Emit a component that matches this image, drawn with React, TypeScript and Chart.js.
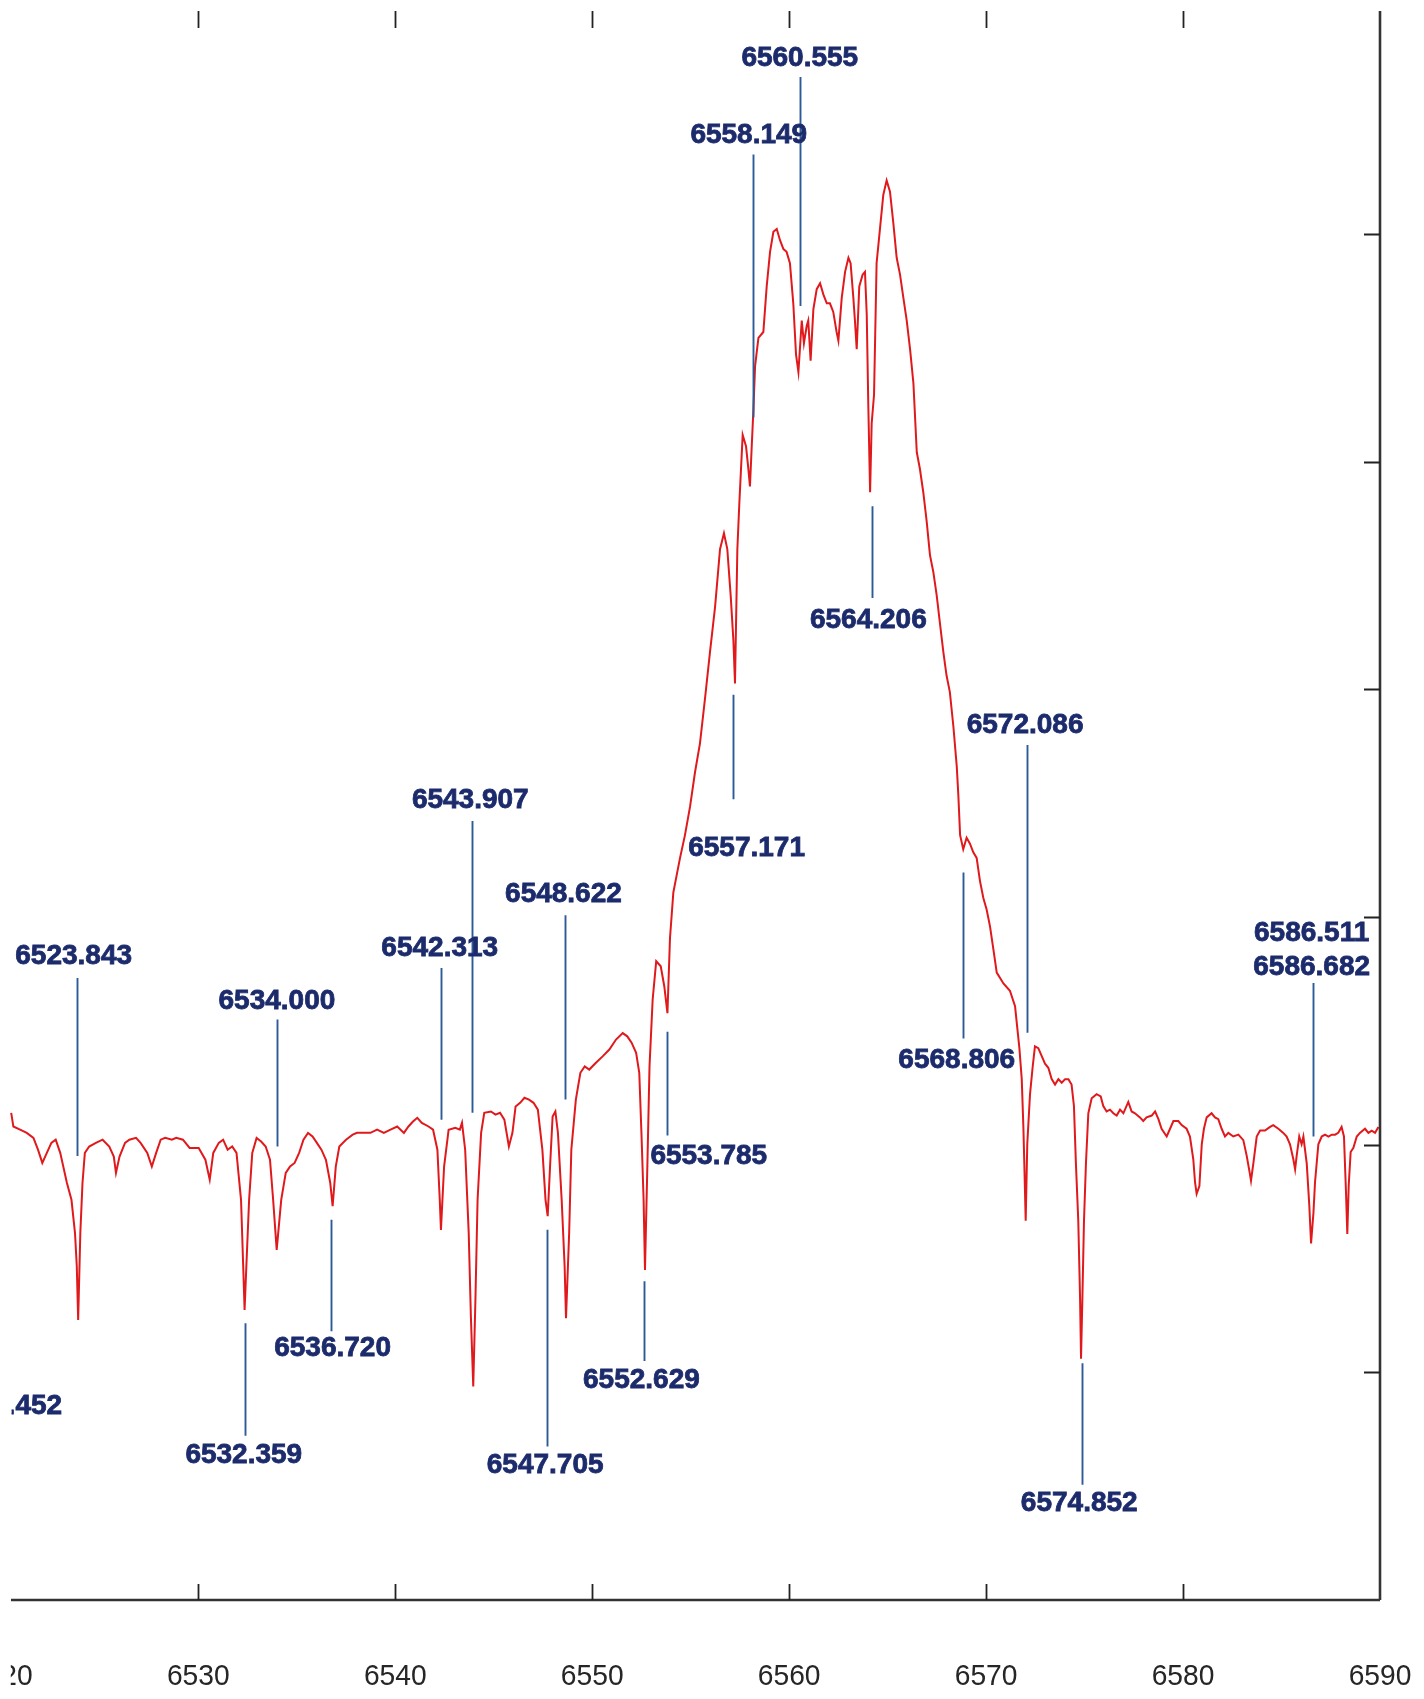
import { useEffect, useRef } from "react";
import { Chart, registerables } from "chart.js";

Chart.register(...registerables);

// ---- spectrum (wavelength in Å, normalised flux) ----
const wavelength = [
  6520.50, 6520.61, 6520.95, 6521.29, 6521.63, 6521.86, 6522.08, 6522.31, 6522.54, 6522.76,
  6522.99, 6523.33, 6523.56, 6523.74, 6523.83, 6523.90, 6524.01, 6524.12, 6524.24, 6524.46,
  6524.80, 6525.14, 6525.48, 6525.71, 6525.82, 6526.00, 6526.28, 6526.50, 6526.84, 6527.07,
  6527.41, 6527.64, 6527.86, 6528.09, 6528.32, 6528.66, 6528.88, 6529.22, 6529.56, 6530.02,
  6530.36, 6530.58, 6530.76, 6531.04, 6531.26, 6531.49, 6531.72, 6531.94, 6532.17, 6532.28,
  6532.35, 6532.44, 6532.58, 6532.74, 6532.96, 6533.19, 6533.42, 6533.64, 6533.80, 6533.98,
  6534.21, 6534.44, 6534.66, 6534.89, 6535.12, 6535.34, 6535.57, 6535.80, 6536.02, 6536.25,
  6536.48, 6536.70, 6536.82, 6536.98, 6537.16, 6537.50, 6537.84, 6538.06, 6538.40, 6538.74,
  6539.08, 6539.42, 6539.76, 6540.10, 6540.44, 6540.67, 6540.90, 6541.12, 6541.35, 6541.69,
  6541.92, 6542.14, 6542.26, 6542.32, 6542.48, 6542.71, 6543.05, 6543.28, 6543.39, 6543.55,
  6543.73, 6543.84, 6543.96, 6544.07, 6544.18, 6544.36, 6544.52, 6544.86, 6545.09, 6545.32,
  6545.54, 6545.77, 6545.95, 6546.11, 6546.34, 6546.56, 6546.79, 6547.02, 6547.24, 6547.47,
  6547.63, 6547.74, 6547.86, 6547.99, 6548.13, 6548.26, 6548.45, 6548.60, 6548.67, 6548.83,
  6548.94, 6549.17, 6549.40, 6549.62, 6549.85, 6550.19, 6550.53, 6550.87, 6551.21, 6551.55,
  6551.78, 6552.00, 6552.23, 6552.39, 6552.50, 6552.61, 6552.68, 6552.80, 6552.91, 6553.07,
  6553.25, 6553.48, 6553.66, 6553.82,
  6553.95, 6554.12, 6554.29, 6554.46, 6554.71, 6554.97, 6555.22, 6555.47, 6555.73, 6555.98,
  6556.24, 6556.49, 6556.69, 6556.86, 6557.03, 6557.17, 6557.25, 6557.37, 6557.47, 6557.64,
  6557.81, 6557.93, 6558.01, 6558.10, 6558.18, 6558.27, 6558.44, 6558.69, 6558.86, 6559.03,
  6559.20, 6559.37, 6559.54, 6559.71, 6559.87, 6560.04, 6560.21, 6560.35, 6560.47, 6560.64,
  6560.75, 6560.89, 6560.97, 6561.09, 6561.23, 6561.40, 6561.57, 6561.74, 6561.91, 6562.07,
  6562.24, 6562.41, 6562.50, 6562.67, 6562.84, 6563.01, 6563.12, 6563.26, 6563.34, 6563.43,
  6563.56, 6563.73, 6563.85, 6563.94, 6564.02, 6564.11, 6564.19, 6564.31, 6564.44, 6564.61,
  6564.78, 6564.95, 6565.12, 6565.29, 6565.46, 6565.63, 6565.80, 6565.97, 6566.14, 6566.31,
  6566.48, 6566.64, 6566.81, 6566.98, 6567.15, 6567.32, 6567.49, 6567.66, 6567.83, 6567.99,
  6568.16, 6568.34, 6568.51, 6568.59, 6568.68, 6568.84, 6569.01, 6569.18, 6569.35, 6569.52,
  6569.69, 6569.86, 6570.03, 6570.20, 6570.37, 6570.54,
  6570.88, 6571.21, 6571.47, 6571.59, 6571.69, 6571.81, 6571.89, 6571.94, 6572.01, 6572.09,
  6572.23, 6572.36, 6572.48, 6572.65, 6572.82, 6572.99, 6573.16, 6573.33, 6573.50, 6573.67,
  6573.84, 6574.01, 6574.18, 6574.34, 6574.46, 6574.56, 6574.68, 6574.77, 6574.82, 6574.89,
  6574.97, 6575.07, 6575.19, 6575.36, 6575.61, 6575.82, 6575.95, 6576.12, 6576.29, 6576.46,
  6576.63, 6576.80, 6576.97, 6577.22, 6577.39, 6577.56, 6577.81, 6577.98, 6578.15, 6578.41,
  6578.58, 6578.75, 6578.91, 6579.17, 6579.34, 6579.51, 6579.76, 6579.93, 6580.18, 6580.35,
  6580.52, 6580.61, 6580.69, 6580.83, 6580.95, 6581.06, 6581.20, 6581.45, 6581.62, 6581.79,
  6581.96, 6582.13, 6582.30, 6582.55, 6582.81, 6583.06, 6583.23, 6583.37, 6583.45, 6583.57,
  6583.74, 6583.91, 6584.16, 6584.42, 6584.58, 6584.84, 6585.09, 6585.26, 6585.43, 6585.60,
  6585.69, 6585.77, 6585.90, 6586.02, 6586.11, 6586.28, 6586.41, 6586.50, 6586.62, 6586.70,
  6586.87, 6587.04, 6587.21, 6587.38, 6587.55, 6587.72, 6587.88, 6588.05, 6588.17, 6588.27,
  6588.34, 6588.41, 6588.51, 6588.65, 6588.82, 6588.98, 6589.24, 6589.41, 6589.58, 6589.75,
  6589.92,
];

const flux = [
  1.070, 1.040, 1.033, 1.026, 1.015, 0.989, 0.960, 0.982, 1.004, 1.011,
  0.982, 0.916, 0.879, 0.806, 0.733, 0.615, 0.806, 0.916, 0.982, 0.996,
  1.004, 1.011, 0.996, 0.974, 0.938, 0.974, 1.004, 1.011, 1.015, 1.004,
  0.982, 0.952, 0.982, 1.011, 1.015, 1.011, 1.015, 1.011, 0.993, 0.993,
  0.967, 0.923, 0.982, 1.004, 1.011, 0.989, 0.996, 0.982, 0.879, 0.733,
  0.637, 0.733, 0.879, 0.982, 1.015, 1.007, 0.996, 0.967, 0.879, 0.769,
  0.879, 0.938, 0.952, 0.960, 0.982, 1.011, 1.026, 1.018, 1.004, 0.989,
  0.967, 0.916, 0.865, 0.952, 0.996, 1.011, 1.022, 1.026, 1.026, 1.026,
  1.033, 1.026, 1.033, 1.040, 1.026, 1.040, 1.051, 1.059, 1.048, 1.040,
  1.033, 0.989, 0.879, 0.813, 0.952, 1.033, 1.037, 1.033, 1.048, 0.989,
  0.806, 0.623, 0.469, 0.659, 0.879, 1.026, 1.070, 1.073, 1.066, 1.070,
  1.055, 0.996, 1.026, 1.084, 1.092, 1.103, 1.099, 1.092, 1.077, 0.989,
  0.879, 0.843, 0.952, 1.062, 1.073, 1.026, 0.879, 0.733, 0.619, 0.806,
  0.989, 1.099, 1.158, 1.172, 1.165, 1.180, 1.194, 1.209, 1.231, 1.245,
  1.238, 1.224, 1.202, 1.158, 1.026, 0.879, 0.725, 0.952, 1.172, 1.319,
  1.403, 1.392, 1.348, 1.289,
  1.454, 1.554, 1.592, 1.630, 1.680, 1.743, 1.818, 1.881, 1.981, 2.082,
  2.182, 2.308, 2.343, 2.308, 2.207, 2.107, 2.013, 2.308, 2.408, 2.559,
  2.534, 2.484, 2.446, 2.534, 2.609, 2.710, 2.772, 2.785, 2.885, 2.961,
  3.005, 3.011, 2.986, 2.967, 2.961, 2.936, 2.848, 2.735, 2.697, 2.810,
  2.760, 2.798, 2.810, 2.722, 2.835, 2.879, 2.892, 2.867, 2.848, 2.848,
  2.829, 2.785, 2.766, 2.860, 2.917, 2.948, 2.936, 2.860, 2.810, 2.747,
  2.885, 2.911, 2.917, 2.823, 2.622, 2.433, 2.584, 2.647, 2.936, 3.011,
  3.086, 3.118, 3.093, 3.024, 2.948, 2.911, 2.860, 2.810, 2.747, 2.672,
  2.521, 2.484, 2.433, 2.370, 2.295, 2.258, 2.207, 2.144, 2.082, 2.031,
  1.994, 1.918, 1.831, 1.768, 1.680, 1.649, 1.674, 1.661, 1.642, 1.630,
  1.579, 1.542, 1.516, 1.479, 1.429, 1.378,
  1.354, 1.338, 1.304, 1.254, 1.212, 1.144, 1.043, 0.959, 0.833, 1.001,
  1.111, 1.169, 1.216, 1.212, 1.195, 1.178, 1.169, 1.144, 1.132, 1.144,
  1.136, 1.144, 1.144, 1.132, 1.085, 0.959, 0.833, 0.665, 0.530, 0.665,
  0.833, 0.959, 1.069, 1.102, 1.111, 1.106, 1.085, 1.073, 1.077, 1.069,
  1.064, 1.077, 1.069, 1.094, 1.073, 1.069, 1.060, 1.052, 1.060, 1.064,
  1.073, 1.056, 1.035, 1.018, 1.035, 1.052, 1.052, 1.043, 1.035, 1.018,
  0.968, 0.917, 0.892, 0.909, 1.001, 1.035, 1.060, 1.069, 1.060, 1.056,
  1.035, 1.018, 1.026, 1.018, 1.022, 1.010, 0.976, 0.942, 0.921, 0.959,
  1.018, 1.031, 1.031, 1.039, 1.043, 1.035, 1.026, 1.018, 1.001, 0.968,
  0.946, 0.976, 1.018, 1.001, 1.018, 0.959, 0.867, 0.783, 0.850, 0.917,
  1.001, 1.018, 1.022, 1.018, 1.022, 1.022, 1.026, 1.039, 1.018, 0.900,
  0.804, 0.909, 0.984, 0.993, 1.018, 1.026, 1.035, 1.026, 1.031, 1.026,
  1.039,
];

// ---- axes ----
const xMin = 6520;
const xMax = 6590;
const yMin = 0;
const yMax = 3.49;
const xTickValues = [6520, 6530, 6540, 6550, 6560, 6570, 6580, 6590];
const yTickValues = [0.5, 1.0, 1.5, 2.0, 2.5, 3.0];

// ---- line identifications ----
const lineLabels = [
  "6520.452", "6523.843", "6532.359", "6534.000", "6536.720", "6542.313",
  "6543.907", "6547.705", "6548.622", "6552.629", "6553.785", "6557.171",
  "6558.149", "6560.555", "6564.206", "6568.806", "6572.086", "6574.852",
  "6586.511\n6586.682",
];
const lineWave = [
  6520.452, 6523.843, 6532.359, 6534.0, 6536.72, 6542.313,
  6543.907, 6547.705, 6548.622, 6552.629, 6553.785, 6557.171,
  6558.149, 6560.555, 6564.206, 6568.806, 6572.086, 6574.852,
  6586.597,
];
const lineTop = [
  0.90, 1.366, 0.608, 1.275, 0.835, 1.388,
  1.711, 0.813, 1.504, 0.700, 1.248, 1.988,
  3.175, 3.345, 2.402, 1.598, 1.878, 0.520,
  1.355,
];
const lineBottom = [
  0.47, 0.975, 0.361, 0.996, 0.590, 1.055,
  1.070, 0.337, 1.099, 0.525, 1.020, 1.759,
  2.597, 2.842, 2.201, 1.233, 1.246, 0.253,
  1.018,
];
const labelWave = [
  6520.12, 6523.67, 6532.31, 6533.99, 6536.82, 6542.26,
  6543.81, 6547.61, 6548.54, 6552.50, 6555.92, 6557.84,
  6557.95, 6560.54, 6564.02, 6568.51, 6571.98, 6574.73,
  6586.53,
];
const labelFlux = [
  0.425, 1.414, 0.318, 1.315, 0.553, 1.432,
  1.756, 0.296, 1.549, 0.482, 0.975, 1.652,
  3.216, 3.387, 2.151, 1.186, 1.921, 0.213,
  1.426,
];

const RED = "#e0191c";
const BLUE_LINE = "#2d5b98";
const NAVY = "#1c2b6c";
const AXIS = "#333333";
const CROP_LEFT = 10.8;
const CROP_MARKS = 11.6;

const decorPlugin = {
  id: "decor",
  afterDatasetsDraw(chart: any) {
    const { ctx, chartArea, scales } = chart;
    const x = scales.x;
    const y = scales.y;
    ctx.save();
    ctx.beginPath();
    ctx.rect(CROP_MARKS, 0, chart.width - CROP_MARKS, chart.height);
    ctx.clip();

    // identification lines (those falling in the cropped-off strip are not seen)
    ctx.strokeStyle = BLUE_LINE;
    ctx.lineWidth = 1.9;
    for (let i = 0; i < lineWave.length; i++) {
      const px = Math.round(x.getPixelForValue(lineWave[i])) + 0.5;
      if (px < CROP_MARKS + 1.5) continue;
      ctx.beginPath();
      ctx.moveTo(px, y.getPixelForValue(lineTop[i]));
      ctx.lineTo(px, y.getPixelForValue(lineBottom[i]));
      ctx.stroke();
    }

    // labels
    ctx.fillStyle = NAVY;
    ctx.strokeStyle = NAVY;
    ctx.lineWidth = 0.8;
    ctx.font = 'bold 28px "Liberation Sans", Arial, sans-serif';
    ctx.textAlign = "center";
    ctx.textBaseline = "middle";
    const gap = 34;
    for (let i = 0; i < lineLabels.length; i++) {
      const parts = lineLabels[i].split("\n");
      const px = x.getPixelForValue(labelWave[i]);
      const py = y.getPixelForValue(labelFlux[i]);
      parts.forEach((t, k) => {
        const ty = py + (k - (parts.length - 1) / 2) * gap;
        ctx.fillText(t, px, ty);
        ctx.strokeText(t, px, ty);
      });
    }
    ctx.restore();

    ctx.save();
    ctx.beginPath();
    ctx.rect(CROP_LEFT, 0, chart.width - CROP_LEFT, chart.height);
    ctx.clip();

    // axes
    const left = CROP_LEFT;
    const right = chartArea.right;
    const top = chartArea.top;
    const bottom = chartArea.bottom;
    ctx.strokeStyle = AXIS;
    ctx.lineWidth = 2.6;
    ctx.beginPath();
    ctx.moveTo(left, bottom);
    ctx.lineTo(right, bottom);
    ctx.moveTo(right, top);
    ctx.lineTo(right, bottom);
    ctx.stroke();

    ctx.lineWidth = 1.8;
    ctx.strokeStyle = "#222";
    ctx.beginPath();
    xTickValues.forEach((v) => {
      const px = Math.round(x.getPixelForValue(v)) + 0.5;
      if (px <= left + 2 || px >= right - 2) return;
      ctx.moveTo(px, bottom);
      ctx.lineTo(px, bottom - 16);
      ctx.moveTo(px, top);
      ctx.lineTo(px, top + 17);
    });
    yTickValues.forEach((v) => {
      const py = Math.round(y.getPixelForValue(v)) + 0.5;
      ctx.moveTo(right, py);
      ctx.lineTo(right - 16, py);
    });
    ctx.stroke();

    // x tick labels
    ctx.fillStyle = "#262626";
    ctx.font = '30px "Liberation Sans", Arial, sans-serif';
    ctx.textAlign = "center";
    ctx.textBaseline = "middle";
    xTickValues.forEach((v) => {
      const px = x.getPixelForValue(v);
      ctx.save();
      ctx.translate(px, bottom + 77);
      ctx.scale(0.94, 1);
      ctx.fillText(String(v), 0, 0);
      ctx.restore();
    });

    ctx.restore();
  },
};

export default function App() {
  const ref = useRef<HTMLCanvasElement>(null);
  useEffect(() => {
    const canvas = ref.current;
    if (!canvas) return;
    const chart = new Chart(canvas, {
      type: "line",
      data: {
        datasets: [
          {
            data: wavelength.map((w, i) => ({ x: w, y: flux[i] })),
            borderColor: RED,
            borderWidth: 2,
            pointRadius: 0,
            tension: 0,
            fill: false,
          },
        ],
      },
      options: {
        animation: false,
        responsive: false,
        events: [],
        layout: { padding: { left: 1.35, right: 44, top: 11, bottom: 99 } },
        plugins: { legend: { display: false }, tooltip: { enabled: false } },
        scales: {
          x: { type: "linear", min: xMin, max: xMax, display: false },
          y: { type: "linear", min: yMin, max: yMax, display: false },
        },
      },
      plugins: [decorPlugin],
    });
    return () => chart.destroy();
  }, []);
  return (
    <div style={{ position: "absolute", left: 0, top: 0, width: 1424, height: 1699, background: "#fff" }}>
      <canvas ref={ref} width={1424} height={1699} style={{ display: "block", width: 1424, height: 1699 }} />
    </div>
  );
}
